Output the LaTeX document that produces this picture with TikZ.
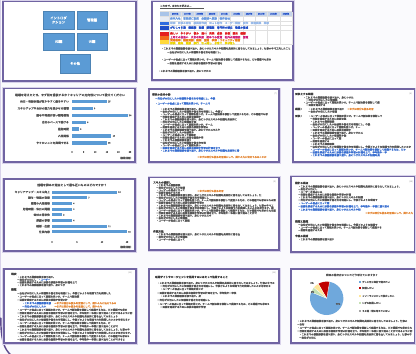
\documentclass[tikz,border=0pt]{standalone}
\usepackage{fontspec}
\newfontfamily\jp{Noto Sans CJK JP}
\newfontfamily\jpm{Noto Sans CJK JP}[FakeBold=1.5]
\newfontfamily\jpb{Noto Sans CJK JP}[FakeBold=3]
\definecolor{bg}{HTML}{FAFAFD}
\definecolor{frame}{HTML}{7064A2}
\definecolor{halo}{HTML}{D8D2EA}
\definecolor{outer}{HTML}{5E4B8E}
\definecolor{txt}{HTML}{575757}
\definecolor{lnk}{HTML}{3A6FD0}
\definecolor{org}{HTML}{E58A3A}
\definecolor{barb}{HTML}{5B9BD5}
\definecolor{hdr}{HTML}{C5D4EC}
\definecolor{tblue}{HTML}{1F4EC8}
\definecolor{lblue}{HTML}{6A9BE0}
\definecolor{tred}{HTML}{E02020}
\definecolor{tmag}{HTML}{D0207A}
\definecolor{torg}{HTML}{F08020}
\definecolor{tyel}{HTML}{EBD400}
\definecolor{pblue}{HTML}{6FA8DC}
\definecolor{pred}{HTML}{C00000}
\definecolor{pyel}{HTML}{FFE699}
\definecolor{pgrn}{HTML}{C5E0B4}
\definecolor{pgry}{HTML}{A5A5A5}
\definecolor{ca}{HTML}{A9C4E8}
\definecolor{cb}{HTML}{E8ECF4}
\definecolor{cc}{HTML}{2E6BE0}
\definecolor{cd}{HTML}{1F4EC8}
\definecolor{ce}{HTML}{E52020}
\definecolor{cf}{HTML}{F26A1B}
\definecolor{cg}{HTML}{FFD93B}

% filler sentences for the small body text
\def\fa{・これまでの業務経験を振り返り、身につけたスキルや知識を具体的に書き出してみましょう。仕事の中で工夫したことや成果も整理します。}
\def\fb{ー自分が大切にしたい価値観や働き方を明確にし、今後どのような環境で力を発揮したいのかを考えます。周囲からの評価も参考にします。}
\def\fc{・ユーザーの視点に立って課題を見つけ、チームで解決策を検討して提案する力は、どの職種でも求められる重要なスキルのひとつです。}
\def\fd{ー目標を達成するために必要な経験や学習の計画を立て、半年後や一年後に振り返ることができるように記録を残しておきましょう。}
\def\fe{→まずは自分の強みを言葉にして、周りの人に伝えてみることから始めてみましょう。}
\def\fta{新卒入社　営業部に配属　企画部へ異動　制作会社へ転職　デザイン担当　チームリーダー}
\def\ftb{研修　先輩の補佐　提案書作成　Ｗｅｂ制作　ユーザー調査　試作　改善提案　発表}
\def\ftc{がむしゃら期　模索期　転機　挑戦期　専門性の確立　後進の育成}
\def\ftd{楽しい　やりがい　悩み　迷い　充実　成長　自信　満足　感謝}
\def\fte{上司との出会い　大きな失敗　初めての受賞　社外の勉強会　登壇}
\def\ftf{資格取得　講座受講　副業　登壇　執筆　コミュニティ運営}
\def\ftg{家族　趣味　健康　旅行　引っ越し　子育て　学び直し}

% take the first #1 characters of #2 into \tkres
\newcount\tkc
\def\tkstop{\tkstop}
\def\takefirst#1#2{\tkc=#1\relax\def\tkres{}\edef\tkstr{#2}\expandafter\tkloop\tkstr\tkstop}
\def\tkloop#1{\ifx#1\tkstop\let\tknext\relax\else
  \ifnum\tkc>0 \edef\tkres{\tkres#1}\advance\tkc by -1 \fi
  \let\tknext\tkloop\fi\tknext}

% one line of small text: [colour]{x}{y}{length}{source}
\newcommand\tline[5][txt]{%
  \pgfmathtruncatemacro\tkn{round((#4)/2.4)}%
  \takefirst{\tkn}{#5}%
  \node[tx,text=#1] at (#2,#3) {\tkres};}
% one bold line inside the timeline table
\newcommand\trow[4]{%
  \pgfmathtruncatemacro\tkn{round((#3)/2.6)}%
  \takefirst{\tkn}{#4}%
  \node[tx,text=#1,font=\jpb\fontsize{2.6}{3}\selectfont] at (170,#2) {\tkres};}

% slide frame
\newcommand\slide[4]{%
  \draw[halo, line width=3pt] (#1,#2) rectangle (#3,#4);
  \draw[frame, line width=1.3pt, fill=white] (#1,#2) rectangle (#3,#4);}

\begin{document}
\begin{tikzpicture}[x=1pt,y=-1pt,
  tx/.style={font=\jpm\fontsize{2.4}{2.9}\selectfont, inner sep=0pt, anchor=west},
  ttl/.style={font=\jpm\fontsize{2.9}{3.4}\selectfont, inner sep=0pt, text=txt},
  lab/.style={font=\jpm\fontsize{2.7}{3.1}\selectfont, inner sep=0pt, anchor=east, text=txt},
  tick/.style={font=\jpm\fontsize{2.2}{2.6}\selectfont, inner sep=0pt, text=txt},
  pg/.style={font=\jp\fontsize{2}{2.4}\selectfont, inner sep=0pt, anchor=east, text=txt!80},
  head/.style={font=\jpb\fontsize{2.6}{3}\selectfont, inner sep=0pt, anchor=west, text=black!75},
  tocbox/.style={fill=barb, draw=barb!85!black, line width=0.3pt, text=white,
    font=\jpm\fontsize{3.3}{4.2}\selectfont, align=center, inner sep=0pt},
  bar/.style={fill=barb},
  grid/.style={draw=black!12, line width=0.2pt}]

\useasboundingbox (0,0) rectangle (416,354);
\fill[bg] (0,0) rectangle (416,354);

% outer frame edge
\draw[halo, line width=1.2pt] (0.8,0) -- (0.8,318);
\draw[outer, line width=1.4pt, line cap=round] (0.8,318) .. controls (0.8,340) and (4,349) .. (11,355);

% ---------- slide frames ----------
\slide{3}{1.5}{136}{81}
\slide{152}{1.5}{293}{80}
\slide{4}{88.5}{135}{162}
\slide{149}{89}{279}{162}
\slide{293}{89}{414.5}{162}
\slide{4}{179}{135}{251}
\slide{149}{177.5}{279}{250}
\slide{291}{176.5}{414.5}{252}
\slide{4}{269}{136}{343}
\slide{149}{269}{279}{343}
\slide{291}{269}{414.5}{343}

% ---------- contents slide ----------
\node[tocbox, minimum width=31pt, minimum height=18pt] (intro) at (58.5,20) {イントロダ\\クション};
\node[tocbox, minimum width=30pt, minimum height=18pt] (kanri) at (92,20) {管理編};
\node[tocbox, minimum width=31pt, minimum height=17pt] (ux) at (58.5,41.5) {UX編};
\node[tocbox, minimum width=30pt, minimum height=17pt] (ui) at (92,41.5) {UI編};
\node[tocbox, minimum width=30pt, minimum height=19pt] (other) at (75,63.5) {その他};

% ---------- timeline slide ----------
\node[tx,text=txt] (histtitle) at (160,5.8) {これまで、あなたの歩みは…};
\draw[txt, line width=0.3pt] (160,7.7) -- (204,7.7);
\fill[hdr] (160,11.5) rectangle (292,16);
\fill[ca] (160,11.5) rectangle (169,16);
\fill[cb] (160,16) rectangle (169,21);
\fill[cc] (160,21) rectangle (169,25);
\fill[cd] (160,25) rectangle (169,30);
\fill[ce] (160,31.5) rectangle (169,36);
\fill[cf] (160,36) rectangle (169,39.5);
\fill[cg] (160,39.5) rectangle (169,44.5);
\foreach \k in {0,...,10} \draw[grid] ({169+12.3*\k},11.5) -- ({169+12.3*\k},44.5);
\foreach \yy in {11.5,16,21,25,30,44.5} \draw[grid] (160,\yy) -- (292,\yy);
\foreach \k/\yr in {0/2005年,1/2007年,2/2009年,3/2011年,4/2013年,5/2015年,6/2017年,7/2019年,8/2021年,9/2023年}
  \node[tick, text=tblue, font=\jpm\fontsize{2}{2.4}\selectfont] at ({175.2+12.3*\k},13.8) {\yr};
\trow{lblue}{18.5}{60}{\fta}
\trow{lblue!70}{23}{118}{\ftb}
\trow{tblue}{27.6}{118}{\ftc}
\trow{tred}{33.4}{118}{\ftd}
\trow{tmag}{37.2}{118}{\fte}
\trow{torg}{40.2}{118}{\ftf}
\trow{tyel}{43.2}{118}{\ftg}
\tline{161}{48.5}{130}{\fa}
\tline{167}{52.3}{55}{\fb}
\tline{161}{59.5}{110}{\fc}
\tline{167}{63.3}{55}{\fd}
\tline{158}{71}{52}{\fa}

% ---------- bar chart: what matters first ----------
\node[ttl] (q1) at (70,95) {転職を考えたとき、まず何を重視するか？キャリアの方向性について教えてください};
\foreach \y/\v/\lb in {101.5/15/{休日・有給休暇が取りやすく働きやすい},
                       108.4/9/{スキルアップや自分の能力を活かせる職場},
                       115.3/24/{給与や待遇が良い職場環境},
                       122.2/6/{自分のペースで働ける},
                       129.1/3/{通勤時間},
                       136/17/{人間関係},
                       142.9/15/{やりたいことを実現できる}}{
  \node[lab] at (69,\y) {\lb};
  \fill[bar] (72,\y-1.7) rectangle ({72+2.32*\v},\y+1.7);
  \node[tick, anchor=west] at ({72+2.32*\v+1},\y) {\v};
}
\foreach \t in {0,5,10,15,20,25} \node[tick] at ({72+2.32*\t},152) {\t};
\node[tick, anchor=east, font=\jpb\fontsize{2.4}{2.8}\selectfont] (n1) at (133,158) {（複数回答）};

% ---------- bar chart: reasons ----------
\node[ttl] (q2) at (72,185) {前職を辞めた理由として最も近いものはどれですか？};
\foreach \y/\v/\lb in {192/13/{キャリアアップ・スキル向上},
                       197.7/7/{給与・待遇の改善},
                       203.4/4/{職場の人間関係},
                       209.1/4/{労働時間・休日の問題},
                       214.8/2/{会社の将来性},
                       220.5/4/{家庭の事情},
                       226.2/11/{結婚・出産},
                       231.9/15/{仕事内容}}{
  \node[lab] at (50,\y) {\lb};
  \fill[bar] (52,\y-1.5) rectangle ({52+5*\v},\y+1.5);
  \node[tick, anchor=west] at ({52+5*\v+1},\y) {\v};
}
\foreach \t in {0,5,10,15} \node[tick] at ({52+5*\t},242) {\t};
\node[tick, anchor=east, font=\jpb\fontsize{2.4}{2.8}\selectfont] (n2) at (133,247) {（複数回答）};

% ---------- text slide: future self ----------
\node[head] (t4) at (152,94.5) {将来の自分の姿};
\node[pg] at (277,93.5) {(7)};
\tline[lnk]{155}{98.5}{60}{\fb}
\tline[lnk]{155}{103.5}{55}{\fc}
\foreach \y/\len/\ff in {109/44/\fa,111.6/62/\fb,114.2/107/\fc,116.8/40/\fd,119.4/77/\fa,
    122/37/\fb,124.6/53/\fc,127.2/47/\fd,129.8/60/\fa,132.4/33/\fb,135/35/\fc,
    137.6/43/\fd,140.2/30/\fa,142.8/45/\fb,145.4/40/\fc}{\tline{160}{\y}{\len}{\ff}}
\tline[lnk]{160}{148}{60}{\fd}
\tline[lnk]{160}{150.6}{78}{\fa}
\tline[org]{197}{157}{70}{\fe}

% ---------- text slide: scope ----------
\node[head] (t5) at (295,94) {対象とする範囲};
\node[pg] at (412,93.5) {(8)};
\tline{303}{97.5}{50}{\fa}
\tline{306}{100}{32}{\fb}
\tline{303}{102.5}{77}{\fc}
\tline{306}{105}{20}{\fd}
\node[head] at (295,109) {概要：};
\tline{308}{109}{35}{\fa}
\tline[org]{347}{109}{27}{\fe}
\tline{308}{111.6}{28}{\fb}
\node[head] at (295,116) {対象：};
\tline{308}{116}{75}{\fc}
\foreach \y/\len/\ff in {118.8/37/\fd,121.6/23/\fa,124.4/60/\fb,127.2/50/\fc,130/40/\fd,
    132.8/53/\fa,135.6/37/\fb,138.4/30/\fc,141.2/20/\fd,144/23/\fa,146.8/100/\fb}{\tline{310}{\y}{\len}{\ff}}
\tline[lnk]{310}{149.6}{97}{\fc}
\tline[lnk]{310}{152.4}{77}{\fd}
\tline[lnk]{310}{155.2}{70}{\fa}

% ---------- text slide: skills ----------
\node[head] (t7) at (153,182.5) {スキルの棚卸し};
\node[pg] at (276,181.5) {(9)};
\foreach \y/\len/\ff in {185.2/25/\fa,187.7/28/\fb,190.2/28/\fc,192.7/25/\fd,195.2/105/\fa,
    197.7/52/\fb,200.2/120/\fc,202.7/48/\fd,205.6/118/\fa,208.1/118/\fb,210.6/120/\fc,
    213.1/100/\fd,215.6/55/\fa,218.1/30/\fb,220.6/33/\fc}{\tline{156}{\y}{\len}{\ff}}
\tline[org]{197}{191}{27}{\fe}
\node[head] (t7b) at (153,231.5) {作業方法};
\tline{156}{234.3}{83}{\fa}
\tline{156}{236.9}{32}{\fb}
\tline{156}{239.5}{28}{\fc}

% ---------- text slide: design viewpoint ----------
\node[head] (t8) at (295,183) {設計の視点};
\node[pg] at (413,181.5) {(10)};
\foreach \y/\len/\ff in {186.5/102/\fa,189.2/18/\fb,191.9/25/\fc,194.6/52/\fd,197.3/65/\fa,
    200/78/\fb}{\tline{298}{\y}{\len}{\ff}}
\tline[lnk]{298}{203.2}{32}{\fc}
\tline[lnk]{298}{206.4}{90}{\fd}
\tline[lnk]{298}{209.6}{63}{\fa}
\tline[org]{365}{213}{48}{\fe}
\node[head] (t8b) at (295,221.5) {問題と課題};
\tline{298}{224.8}{80}{\fb}
\tline{298}{227.5}{83}{\fc}
\tline{298}{230.2}{25}{\fd}
\node[head] (t8c) at (295,236) {今後の展望};
\tline{298}{239.3}{35}{\fa}

% ---------- text slide: current state ----------
\node[head] (t9) at (11,274) {現状};
\node[pg] at (132,273) {(11)};
\tline{17}{277}{38}{\fa}
\tline{17}{279.7}{20}{\fb}
\tline[lnk]{38}{279.7}{13}{\fc}
\tline{17}{282.4}{60}{\fd}
\tline{17}{285.1}{48}{\fa}
\node[head] (t9b) at (11,289.5) {課題};
\tline{17}{293.3}{93}{\fb}
\tline{17}{296.6}{63}{\fc}
\tline{17}{299.9}{50}{\fd}
\tline[lnk]{22}{303.2}{28}{\fa}
\tline[org]{54}{303.2}{63}{\fe}
\tline[lnk]{22}{306.5}{25}{\fb}
\tline[org]{54}{306.5}{47}{\fe}
\foreach \y/\len/\ff in {309.8/110/\fc,313.1/115/\fd,316.4/100/\fa,319.7/113/\fb,323/93/\fc,
    326.3/100/\fd,329.6/113/\fa,332.9/115/\fb,336.2/113/\fc,339.5/108/\fd}{\tline{17}{\y}{\len}{\ff}}

% ---------- text slide: using services ----------
\node[head] (t10) at (155,277) {転職サイトやエージェントを活用するにあたって注意すること};
\node[pg] at (276,273) {(12)};
\tline{157}{283}{118}{\fa}
\tline{160}{286}{110}{\fb}
\tline{160}{289}{43}{\fc}
\tline{157}{293}{80}{\fd}
\tline{160}{296}{40}{\fa}
\tline{157}{300}{52}{\fb}
\tline{157}{304}{112}{\fc}
\tline{160}{307}{45}{\fd}

% ---------- pie chart slide ----------
\node[ttl, font=\jpm\fontsize{2.6}{3}\selectfont] (q3) at (352,275) {将来の働き方についてどう考えていますか？};
\begin{scope}[shift={(326.7,298.3)}, yscale=-1]
  \fill[pblue] (0,0) -- (158:16.7) arc[start angle=158, end angle=440, radius=16.7] -- cycle;
  \fill[pred]  (0,0) -- (80:16.7)  arc[start angle=80,  end angle=120, radius=16.7] -- cycle;
  \fill[pyel]  (0,0) -- (120:16.7) arc[start angle=120, end angle=140, radius=16.7] -- cycle;
  \fill[pgrn]  (0,0) -- (140:16.7) arc[start angle=140, end angle=158, radius=16.7] -- cycle;
  \foreach \a in {80,120,140,158} \draw[white, line width=0.3pt] (0,0) -- (\a:16.7);
\end{scope}
\node[tick] (p3) at (312,283) {3\%};
\node[tick] (p6) at (312.5,292) {6\%};
\node[tick] (p77) at (338,304) {77\%};
\foreach \y/\c/\lb in {282/pblue/{ずっと同じ会社で働きたい},288/pred/{転職したい},
    296/pyel/{フリーランスとして独立したい},303/pgrn/{いずれ起業したい},
    311/pgry/{その他・特に考えていない}}{
  \fill[\c] (358.5,\y-1) rectangle (360.5,\y+1);
  \node[tx,text=txt,font=\jpm\fontsize{2.3}{2.8}\selectfont] at (362,\y) {\lb};
}
\tline{297}{321}{110}{\fa}
\tline{297}{324.3}{8}{\fb}
\tline{297}{327.8}{116}{\fc}
\tline{297}{331.1}{116}{\fd}
\tline{299}{334.4}{113}{\fa}
\tline{299}{337.7}{17}{\fb}

\end{tikzpicture}
\end{document}
